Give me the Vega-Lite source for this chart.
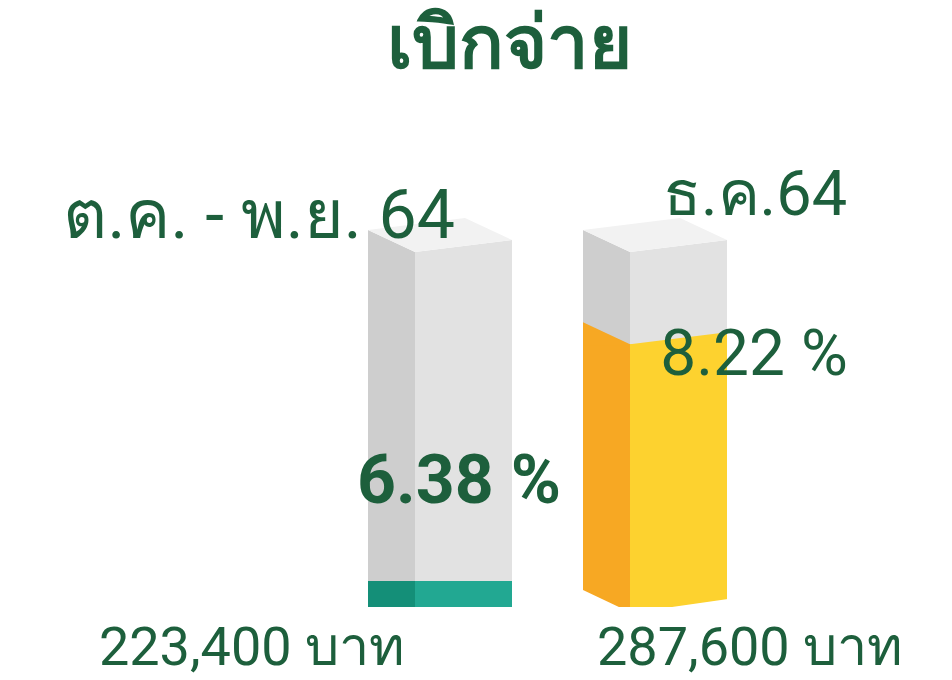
{
  "$schema": "https://vega.github.io/schema/vega-lite/v6.json",
  "width": 952,
  "height": 600,
  "autosize": "none",
  "padding": {"top": 80, "left": 0, "right": 0, "bottom": 0},
  "background": "white",
  "title": {"text": "เบิกจ่าย", "fontSize": 74, "fontWeight": "bold", "color": "#1d5f3c", "anchor": "middle", "frame": "group", "baseline": "alphabetic", "offset": 10, "dx": 33, "dy": 72, "font": "Roboto"},
  "config": {"view": {"stroke": null}, "text": {"font": "Roboto", "color": "#1d5f3c", "fontSize": 60, "baseline": "alphabetic"}},
  "data": {"values": [
    {"period": "ต.ค. - พ.ย. 64", "percent": 6.38, "percentLabel": "6.38 %", "amount": 223400, "amountLabel": "223,400 บาท", "level": 7.3},
    {"period": "ธ.ค.64", "percent": 8.22, "percentLabel": "8.22 %", "amount": 287600, "amountLabel": "287,600 บาท", "level": 74}
  ]},
  "encoding": {
    "x": {"field": "period", "type": "nominal", "scale": {"type": "point", "padding": 0, "domain": ["ต.ค. - พ.ย. 64", "ธ.ค.64"], "range": [415, 630]}, "axis": null}
  },
  "layer": [
    {"mark": {"type": "bar", "width": 47, "xOffset": -23.5, "color": "#cecece"},
     "encoding": {"y": {"datum": 100, "type": "quantitative", "scale": {"domain": [0, 100], "range": [527, 172]}, "axis": null}, "y2": {"datum": 0}}},
    {"mark": {"type": "point", "shape": "M 0 1 L 0 0 L -47 -22 L -47 1 Z", "size": 4, "filled": true, "opacity": 1, "color": "#cecece", "strokeWidth": 0},
     "encoding": {"y": {"datum": 100, "type": "quantitative"}}},
    {"mark": {"type": "bar", "width": 97, "xOffset": 48.5, "color": "#e2e2e2"},
     "encoding": {"y": {"datum": 100, "type": "quantitative"}, "y2": {"datum": 0}}},
    {"mark": {"type": "point", "shape": "M 0 1 L 0 0 L 97 -12 L 97 1 Z", "size": 4, "filled": true, "opacity": 1, "color": "#e2e2e2", "strokeWidth": 0},
     "encoding": {"y": {"datum": 100, "type": "quantitative"}}},
    {"mark": {"type": "point", "shape": "M 0 0 L -47 -22 L 50 -34 L 97 -12 Z", "size": 4, "filled": true, "opacity": 1, "color": "#f2f2f2", "strokeWidth": 0},
     "encoding": {"y": {"datum": 100, "type": "quantitative"}}},
    {"mark": {"type": "bar", "width": 47, "xOffset": -23.5},
     "encoding": {"y": {"field": "level", "type": "quantitative"}, "y2": {"datum": 0},
       "color": {"field": "period", "type": "nominal", "scale": {"domain": ["ต.ค. - พ.ย. 64", "ธ.ค.64"], "range": ["#148f78", "#f7a823"]}, "legend": null}}},
    {"mark": {"type": "bar", "width": 97, "xOffset": 48.5},
     "encoding": {"y": {"field": "level", "type": "quantitative"}, "y2": {"datum": 0},
       "fill": {"field": "period", "type": "nominal", "scale": {"domain": ["ต.ค. - พ.ย. 64", "ธ.ค.64"], "range": ["#22a892", "#fdd22f"]}, "legend": null}}},
    {"transform": [{"filter": "datum.period == 'ธ.ค.64'"}],
     "mark": {"type": "point", "shape": "M 0 1 L 0 0 L -47 -22 L -47 1 Z", "size": 4, "filled": true, "opacity": 1, "color": "#f7a823", "strokeWidth": 0},
     "encoding": {"y": {"field": "level", "type": "quantitative"}}},
    {"transform": [{"filter": "datum.period == 'ธ.ค.64'"}],
     "mark": {"type": "point", "shape": "M 0 1 L 0 0 L 97 -12 L 97 1 Z", "size": 4, "filled": true, "opacity": 1, "color": "#fdd22f", "strokeWidth": 0},
     "encoding": {"y": {"field": "level", "type": "quantitative"}}},
    {"transform": [{"filter": "datum.period == 'ธ.ค.64'"}],
     "mark": {"type": "point", "shape": "M -47 -17 L -9 1 L -47 1 Z M 35 1 L 98 -8 L 98 1 Z", "size": 4, "filled": true, "opacity": 1, "color": "white", "strokeWidth": 0},
     "encoding": {"y": {"datum": 0, "type": "quantitative"}}},
    {"transform": [{"filter": "datum.period == 'ต.ค. - พ.ย. 64'"}],
     "mark": {"type": "text", "align": "right", "dx": 40, "dy": -14, "fontSize": 68},
     "encoding": {"y": {"datum": 100, "type": "quantitative"}, "text": {"field": "period"}}},
    {"transform": [{"filter": "datum.period == 'ธ.ค.64'"}],
     "mark": {"type": "text", "align": "left", "dx": 33, "dy": -37, "fontSize": 63},
     "encoding": {"y": {"datum": 100, "type": "quantitative"}, "text": {"field": "period"}}},
    {"transform": [{"filter": "datum.period == 'ต.ค. - พ.ย. 64'"}],
     "mark": {"type": "text", "align": "center", "dx": 44, "dy": -78, "fontWeight": "bold", "fontSize": 68},
     "encoding": {"y": {"field": "level", "type": "quantitative"}, "text": {"field": "percentLabel"}}},
    {"transform": [{"filter": "datum.period == 'ธ.ค.64'"}],
     "mark": {"type": "text", "align": "center", "dx": 124, "dy": 31, "fontSize": 64},
     "encoding": {"y": {"field": "level", "type": "quantitative"}, "text": {"field": "percentLabel"}}},
    {"transform": [{"filter": "datum.period == 'ต.ค. - พ.ย. 64'"}],
     "mark": {"type": "text", "align": "right", "dx": -10, "dy": 58, "fontSize": 54},
     "encoding": {"y": {"datum": 0, "type": "quantitative"}, "text": {"field": "amountLabel"}}},
    {"transform": [{"filter": "datum.period == 'ธ.ค.64'"}],
     "mark": {"type": "text", "align": "left", "dx": -33, "dy": 58, "fontSize": 54},
     "encoding": {"y": {"datum": 0, "type": "quantitative"}, "text": {"field": "amountLabel"}}}
  ],
  "resolve": {"scale": {"color": "independent", "fill": "independent"}}
}
